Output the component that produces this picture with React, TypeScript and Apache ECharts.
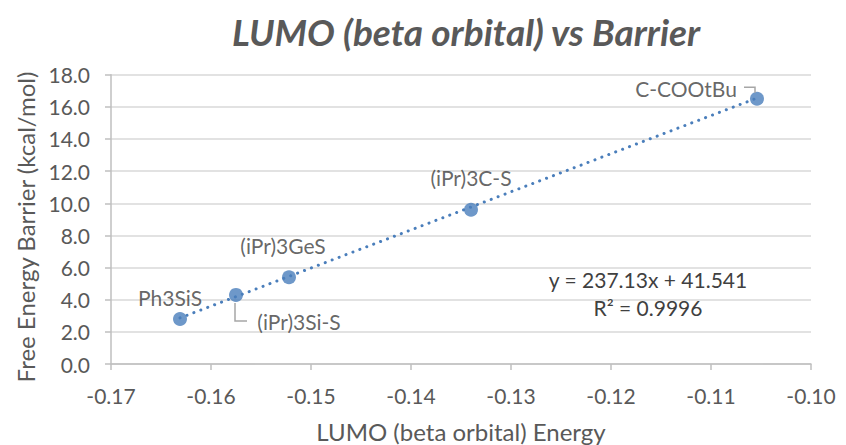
import React, { useEffect, useRef } from "react";
import * as echarts from "echarts";

// LUMO (beta orbital) energies and free energy barriers
const names = ["Ph3SiS", "(iPr)3Si-S", "(iPr)3GeS", "(iPr)3C-S", "C-COOtBu"];
const lumo = [-0.1631, -0.1575, -0.1522, -0.134, -0.1054];
const barrier = [2.8, 4.3, 5.4, 9.6, 16.5];
// label offsets (px) relative to each marker's centre
const labelOffsets: [number, number][] = [
  [-10, -21],
  [63, 27],
  [-6, -32],
  [0, -32],
  [-71, -10],
];
// linear fit shown on the chart
const slope = 237.13;
const intercept = 41.541;
const r2 = "0.9996";

const FONT = "Lato, 'Open Sans', sans-serif";
const TEXT = "#595959";
const BLUE = "#4a7ebb";

export default function App() {
  const ref = useRef<HTMLDivElement>(null);
  useEffect(() => {
    if (!ref.current) return;
    const chart = echarts.init(ref.current, undefined, { renderer: "svg" });
    const xMin = Math.min(...lumo);
    const xMax = Math.max(...lumo);
    const trend = [
      [xMin, slope * xMin + intercept],
      [xMax, slope * xMax + intercept],
    ];
    const option: any = {
      animation: false,
      backgroundColor: "#ffffff",
      textStyle: { fontFamily: FONT },
      title: {
        text: "LUMO (beta orbital) vs Barrier",
        left: 461,
        textAlign: "center",
        top: 8,
        textStyle: {
          fontFamily: FONT,
          fontSize: 37,
          fontWeight: "bold",
          fontStyle: "italic",
          color: TEXT,
        },
      },
      grid: {
        left: 111,
        right: 35,
        top: 74.7,
        bottom: 81,
        outerBoundsMode: "none",
        containLabel: false,
      },
      xAxis: {
        type: "value",
        min: -0.17,
        max: -0.1,
        interval: 0.01,
        name: "LUMO (beta orbital) Energy",
        nameLocation: "middle",
        nameGap: 55,
        nameTextStyle: { fontFamily: FONT, fontSize: 24, color: TEXT },
        axisLine: { show: true, lineStyle: { color: "#bfbfbf", width: 1.5 } },
        axisTick: { show: true, length: 6, lineStyle: { color: "#bfbfbf", width: 1.5 } },
        axisLabel: {
          fontFamily: FONT,
          fontSize: 21,
          color: TEXT,
          margin: 21,
          formatter: (v: number) => v.toFixed(2),
        },
        splitLine: { show: false },
      },
      yAxis: {
        type: "value",
        min: 0,
        max: 18,
        interval: 2,
        axisLine: { show: true, lineStyle: { color: "#bfbfbf", width: 1.5 } },
        axisTick: { show: true, length: 6, lineStyle: { color: "#bfbfbf", width: 1.5 } },
        axisLabel: {
          fontFamily: FONT,
          fontSize: 21,
          color: TEXT,
          margin: 21,
          formatter: (v: number) => v.toFixed(1),
        },
        splitLine: { show: true, lineStyle: { color: "#d9d9d9", width: 1.5 } },
      },
      series: [
        {
          type: "line",
          data: trend,
          symbol: "none",
          silent: true,
          lineStyle: { color: BLUE, width: 3, type: [0.1, 7.3], cap: "round" },
          z: 1,
        },
        {
          type: "scatter",
          symbol: "circle",
          symbolSize: 14,
          itemStyle: { color: BLUE },
          z: 3,
          data: lumo.map((x, i) => ({
            value: [x, barrier[i]],
            name: names[i],
            label: {
              show: true,
              position: "inside",
              offset: labelOffsets[i],
              formatter: names[i],
              fontFamily: FONT,
              fontSize: 21,
              color: "#404040",
            },
          })),
        },
      ],
    };
    chart.setOption(option);

    // leader lines, y-axis title and fit equation
    const p1 = chart.convertToPixel({ gridIndex: 0 }, [lumo[1], barrier[1]]) as number[];
    const p4 = chart.convertToPixel({ gridIndex: 0 }, [lumo[4], barrier[4]]) as number[];
    chart.setOption({
      graphic: [
        {
          type: "text",
          x: 25,
          y: 227,
          rotation: Math.PI / 2,
          style: {
            text: "Free Energy Barrier (kcal/mol)",
            fontFamily: FONT,
            fontSize: 24,
            fill: TEXT,
            align: "center",
            verticalAlign: "middle",
          },
        },
        {
          type: "polyline",
          shape: {
            points: [
              [p1[0] - 1, p1[1] + 8],
              [p1[0] - 1, p1[1] + 26],
              [p1[0] + 11, p1[1] + 26],
            ],
          },
          style: { stroke: "#a6a6a6", lineWidth: 1.5, fill: "none" },
          z: 10,
        },
        {
          type: "polyline",
          shape: {
            points: [
              [p4[0] - 13, p4[1] - 11.5],
              [p4[0] - 2, p4[1] - 11.5],
              [p4[0] - 2, p4[1] - 6],
            ],
          },
          style: { stroke: "#a6a6a6", lineWidth: 1.5, fill: "none" },
          z: 10,
        },
        {
          type: "text",
          x: 648,
          y: 279,
          style: {
            text: `y = ${slope}x + ${intercept}`,
            fontFamily: FONT,
            fontSize: 21,
            fill: "#404040",
            align: "center",
            verticalAlign: "middle",
          },
        },
        {
          type: "text",
          x: 648,
          y: 307,
          style: {
            text: `R² = ${r2}`,
            fontFamily: FONT,
            fontSize: 21,
            fill: "#404040",
            align: "center",
            verticalAlign: "middle",
          },
        },
      ],
    });
    return () => chart.dispose();
  }, []);
  return (
    <div
      ref={ref}
      style={{ position: "fixed", left: 0, top: 0, width: 846, height: 445 }}
    />
  );
}
